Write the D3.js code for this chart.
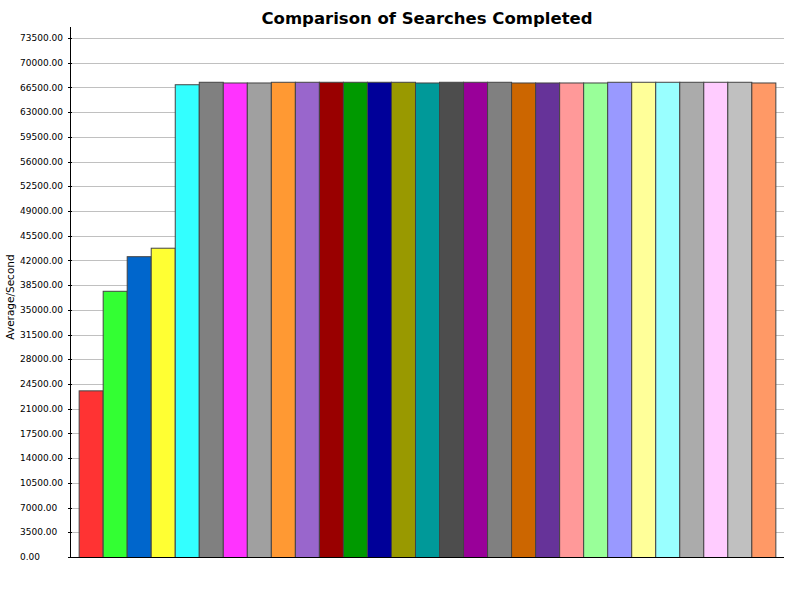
<!DOCTYPE html>
<html>
<head>
<meta charset="utf-8">
<script src="https://cdn.jsdelivr.net/npm/d3@7"></script>
<style>
  body { margin: 0; background: #fff; }
  .tick-label { font-family: "DejaVu Sans", sans-serif; font-size: 9px; fill: #000; }
  .axis-title { font-family: "DejaVu Sans", sans-serif; font-size: 10.5px; fill: #000; }
  .chart-title { font-family: "DejaVu Sans", sans-serif; font-size: 16.5px; font-weight: bold; fill: #000; }
</style>
</head>
<body>
<div class="viz"></div>
<script>
// one bar per series, all in a single category
var series = [ "S1", "S2", "S3", "S4", "S5", "S6", "S7", "S8", "S9", "S10",
               "S11", "S12", "S13", "S14", "S15", "S16", "S17", "S18", "S19", "S20",
               "S21", "S22", "S23", "S24", "S25", "S26", "S27", "S28", "S29" ];
var values = [ 23600, 37700, 42600, 43800, 66950, 67300, 67200, 67200, 67300, 67300,
               67300, 67300, 67300, 67300, 67200, 67300, 67300, 67300, 67200, 67200,
               67200, 67200, 67300, 67300, 67300, 67300, 67300, 67300, 67200 ];
var colors = [ "#ff3333", "#33ff33", "#0066cc", "#ffff33", "#33ffff", "#808080", "#ff33ff", "#a0a0a0", "#ff9933", "#9966cc",
               "#990000", "#009900", "#000099", "#999900", "#009999", "#4d4d4d", "#990099", "#808080", "#cc6600", "#663399",
               "#ff9999", "#99ff99", "#9999ff", "#ffff99", "#99ffff", "#ababab", "#ffccff", "#c0c0c0", "#ff9966" ];
var tickValues = [ 0, 3500, 7000, 10500, 14000, 17500, 21000, 24500, 28000, 31500, 35000, 38500,
                   42000, 45500, 49000, 52500, 56000, 59500, 63000, 66500, 70000, 73500 ];
var yMax = 75057;

var W = 800, H = 600,
    margin = { top: 27, right: 16, bottom: 43, left: 70 },
    width = W - margin.left - margin.right,
    height = H - margin.top - margin.bottom;

var svg = d3.select( ".viz" )
    .append( "svg" )
    .attr( "width", W )
    .attr( "height", H );

var g = svg.append( "g" )
    .attr( "transform", "translate(" + margin.left + "," + margin.top + ")" );

var x = d3.scaleBand()
    .domain( series )
    .range( [ 0, width ] )
    .paddingInner( 0 )
    .paddingOuter( 0.36 );

var y = d3.scaleLinear()
    .domain( [ 0, yMax ] )
    .range( [ height, 0 ] );

// grid lines
g.selectAll( ".grid" )
    .data( tickValues.filter( function( d ) { return d > 0; } ) )
    .enter()
    .append( "line" )
    .attr( "class", "grid" )
    .attr( "x1", 0 )
    .attr( "x2", width )
    .attr( "y1", function( d ) { return Math.round( y( d ) ) + 0.5; } )
    .attr( "y2", function( d ) { return Math.round( y( d ) ) + 0.5; } )
    .style( "stroke", "#c0c0c0" )
    .style( "stroke-width", 1 );

// bars
g.selectAll( ".bar" )
    .data( values )
    .enter()
    .append( "rect" )
    .attr( "class", "bar" )
    .attr( "x", function( d, i ) { return x( series[ i ] ) + 0.5; } )
    .attr( "y", function( d ) { return y( d ) + 0.5; } )
    .attr( "width", x.bandwidth() )
    .attr( "height", function( d ) { return height - y( d ); } )
    .style( "fill", function( d, i ) { return colors[ i ]; } )
    .style( "stroke", "#444" )
    .style( "stroke-width", 1 );

// y axis line and ticks
g.append( "line" )
    .attr( "x1", 0.5 ).attr( "x2", 0.5 )
    .attr( "y1", 0 ).attr( "y2", height + 0.5 )
    .style( "stroke", "#000" );

g.append( "line" )
    .attr( "x1", -2 ).attr( "x2", width )
    .attr( "y1", height + 0.5 ).attr( "y2", height + 0.5 )
    .style( "stroke", "#000" );

g.selectAll( ".ytick" )
    .data( tickValues )
    .enter()
    .append( "line" )
    .attr( "class", "ytick" )
    .attr( "x1", -2 )
    .attr( "x2", 2 )
    .attr( "y1", function( d ) { return Math.round( y( d ) ) + 0.5; } )
    .attr( "y2", function( d ) { return Math.round( y( d ) ) + 0.5; } )
    .style( "stroke", "#000" );

// tick labels, left aligned as in the original
g.selectAll( ".tick-label" )
    .data( tickValues )
    .enter()
    .append( "text" )
    .attr( "class", "tick-label" )
    .attr( "x", -50 )
    .attr( "y", function( d ) { return y( d ); } )
    .attr( "dy", "0.35em" )
    .style( "text-anchor", "start" )
    .text( function( d ) { return d3.format( ".2f" )( d ); } );

// axis title
svg.append( "text" )
    .attr( "class", "axis-title" )
    .attr( "transform", "translate(14," + ( margin.top + height / 2 + 5 ) + ") rotate(-90)" )
    .style( "text-anchor", "middle" )
    .text( "Average/Second" );

// chart title
svg.append( "text" )
    .attr( "class", "chart-title" )
    .attr( "x", margin.left + width / 2 )
    .attr( "y", 24 )
    .style( "text-anchor", "middle" )
    .text( "Comparison of Searches Completed" );
</script>
</body>
</html>
